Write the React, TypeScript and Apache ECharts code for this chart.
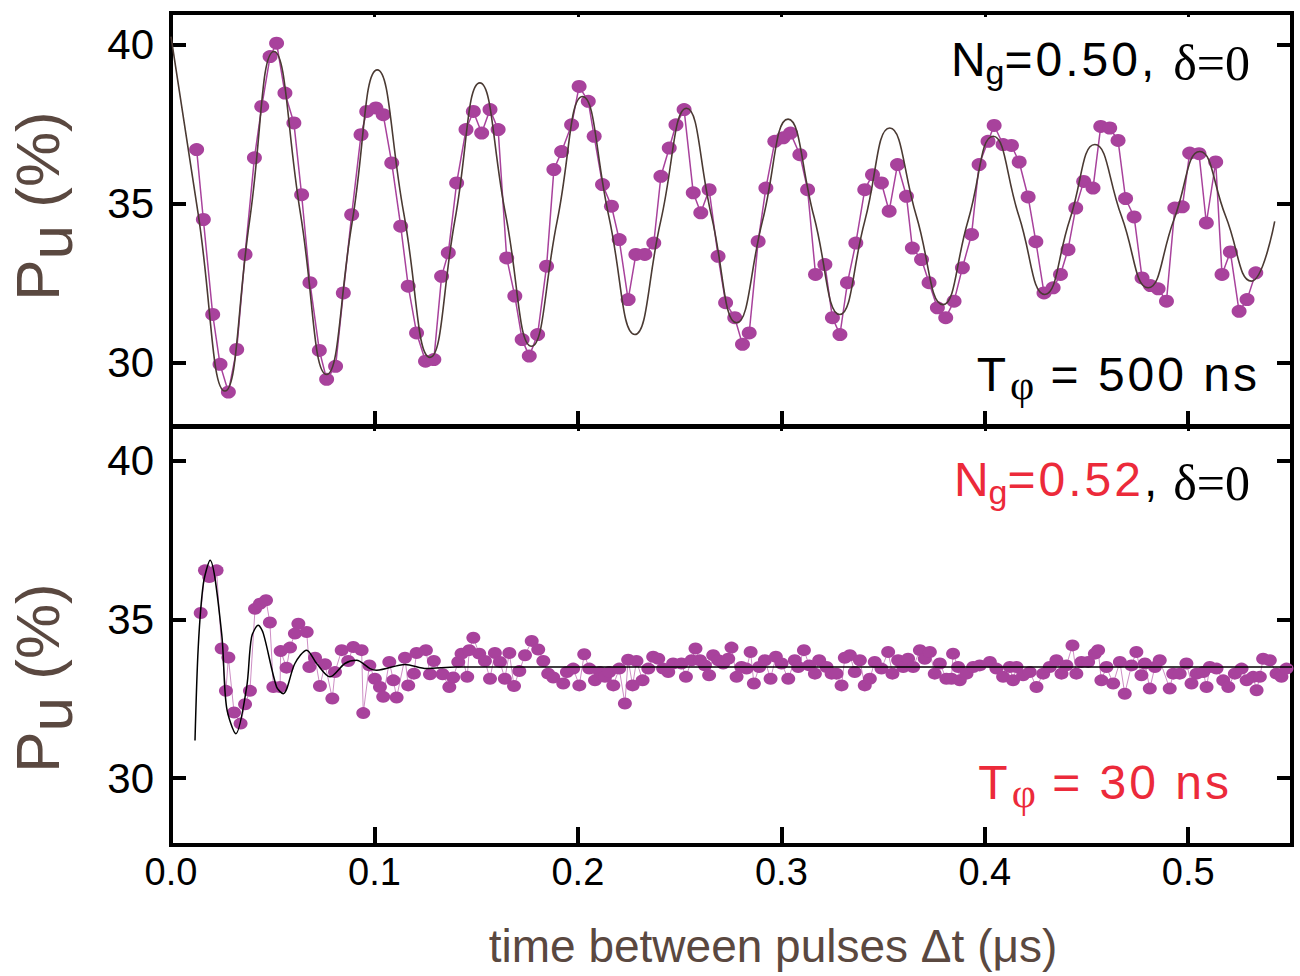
import React, { useEffect, useRef } from "react";
import * as echarts from "echarts";

// ---- axis ticks ----
const X_TICKS = [0, 0.1, 0.2, 0.3, 0.4, 0.5];
const Y_TICKS = [30, 35, 40];

// ---- top panel: measured points [t (µs), Pu (%)] ----
const topData: number[][] = [
  [0.0126, 36.7], [0.0159, 34.5], [0.0205, 31.51], [0.0241, 29.94], [0.0282, 29.07],
  [0.0323, 30.41], [0.0364, 33.4], [0.041, 36.44], [0.0446, 38.06], [0.0487, 39.63],
  [0.0519, 40.05], [0.056, 38.48], [0.0604, 37.54], [0.0642, 35.28], [0.0683, 32.51],
  [0.0729, 30.38], [0.0765, 29.47], [0.0809, 29.88], [0.0847, 32.19], [0.0888, 34.65],
  [0.0934, 37.17], [0.0962, 37.9], [0.1007, 38.01], [0.1043, 37.8], [0.1085, 36.28],
  [0.1129, 34.29], [0.1166, 32.4], [0.1207, 30.93], [0.1251, 30.04], [0.1292, 30.09],
  [0.133, 32.71], [0.1363, 33.45], [0.1404, 35.65], [0.145, 37.33], [0.1486, 37.9],
  [0.1527, 37.22], [0.1568, 37.96], [0.1608, 37.33], [0.165, 33.29], [0.169, 32.09],
  [0.1726, 30.72], [0.1761, 30.2], [0.1802, 30.88], [0.1846, 33.03], [0.1882, 36.07],
  [0.192, 36.64], [0.1969, 37.48], [0.2006, 38.69], [0.2051, 38.22], [0.208, 37.12],
  [0.2121, 35.6], [0.2165, 34.92], [0.2203, 33.87], [0.2247, 31.98], [0.2285, 33.4],
  [0.2329, 33.4], [0.2373, 33.76], [0.2408, 35.86], [0.2449, 36.75], [0.2482, 37.48],
  [0.2522, 37.96], [0.2567, 35.34], [0.2604, 34.71], [0.2645, 35.44], [0.2689, 33.34],
  [0.2726, 31.88], [0.2771, 31.41], [0.2809, 30.57], [0.2842, 30.93], [0.2886, 33.81],
  [0.2924, 35.49], [0.2968, 36.96], [0.3009, 37.07], [0.3045, 37.22], [0.3091, 36.54],
  [0.3129, 35.44], [0.3168, 32.77], [0.3214, 33.08], [0.3251, 31.41], [0.3288, 30.88],
  [0.3325, 32.51], [0.3366, 33.76], [0.341, 35.44], [0.3448, 35.91], [0.3492, 35.65],
  [0.353, 34.76], [0.3571, 36.23], [0.3615, 35.23], [0.3644, 33.6], [0.3689, 33.24],
  [0.3726, 32.51], [0.3767, 31.72], [0.3808, 31.41], [0.3849, 31.93], [0.389, 32.98],
  [0.3935, 34.03], [0.3972, 36.23], [0.4016, 36.96], [0.4046, 37.46], [0.409, 36.86],
  [0.4131, 36.83], [0.4169, 36.31], [0.4213, 35.21], [0.4251, 33.8], [0.4291, 32.19],
  [0.4336, 32.35], [0.4372, 32.77], [0.4409, 33.55], [0.4447, 34.86], [0.4486, 35.7],
  [0.4532, 35.49], [0.457, 37.43], [0.4614, 37.38], [0.4655, 36.99], [0.4692, 35.16],
  [0.4734, 34.58], [0.4773, 32.66], [0.4814, 32.42], [0.4852, 32.32], [0.4893, 31.93],
  [0.4934, 34.86], [0.4971, 34.9], [0.5007, 36.59], [0.5053, 36.57], [0.5089, 34.39],
  [0.5135, 36.31], [0.5166, 32.77], [0.5207, 33.48], [0.525, 31.61], [0.5289, 31.98],
  [0.5332, 32.82],
];

// ---- top panel: fit curve read at extrema and mid-crossings ----
const topFit: number[][] = [
  [0, 40.26], [0.0133, 34.7], [0.0265, 29.1], [0.0386, 34.45], [0.0506, 39.79],
  [0.0636, 34.7], [0.0765, 29.62], [0.089, 34.4], [0.1014, 39.21], [0.1144, 34.7],
  [0.1273, 30.16], [0.1396, 34.5], [0.1518, 38.8], [0.1645, 34.65], [0.1772, 30.51],
  [0.1898, 34.45], [0.2023, 38.37], [0.2152, 34.6], [0.228, 30.88], [0.2407, 34.45],
  [0.2534, 38.0], [0.2657, 34.6], [0.278, 31.25], [0.2907, 34.45], [0.3033, 37.66],
  [0.316, 34.6], [0.3287, 31.51], [0.341, 34.45], [0.3533, 37.38], [0.3664, 34.6],
  [0.3794, 31.82], [0.3918, 34.47], [0.4041, 37.12], [0.4168, 34.6], [0.4295, 32.14],
  [0.4418, 34.5], [0.4541, 36.86], [0.4672, 34.6], [0.4803, 32.35], [0.493, 34.5],
  [0.5057, 36.64], [0.5184, 34.6], [0.5311, 32.56], [0.5425, 34.44],
];

// ---- bottom panel: measured points ----
const bottomData: number[][] = [
  [0.0146, 35.2], [0.0167, 36.54], [0.0188, 36.33], [0.0224, 36.54], [0.0249, 34.08],
  [0.027, 32.75], [0.0282, 33.8], [0.031, 32.07], [0.0342, 31.72], [0.0364, 32.33],
  [0.0388, 32.75], [0.0413, 35.33], [0.0437, 35.49], [0.0467, 35.6], [0.0486, 34.9],
  [0.0503, 32.87], [0.0536, 32.87], [0.0539, 34.0], [0.0568, 33.48], [0.0585, 34.11],
  [0.0609, 34.55], [0.0626, 34.86], [0.0667, 34.6], [0.068, 33.5], [0.0708, 33.79],
  [0.0732, 32.9], [0.0757, 33.59], [0.0793, 32.51], [0.0806, 33.34], [0.0839, 34.03],
  [0.0871, 33.69], [0.0896, 34.13], [0.0937, 34.03], [0.0945, 32.05], [0.0975, 33.55],
  [0.1002, 33.13], [0.1027, 32.87], [0.1043, 32.56], [0.1073, 33.66], [0.1093, 33.08],
  [0.1109, 32.54], [0.115, 33.79], [0.1166, 32.92], [0.1194, 33.29], [0.1207, 33.94],
  [0.1253, 34.03], [0.1273, 33.27], [0.1292, 33.69], [0.1335, 33.27], [0.1368, 32.87],
  [0.1387, 33.17], [0.1412, 33.66], [0.1428, 33.92], [0.1456, 33.19], [0.1466, 34.03],
  [0.1486, 34.42], [0.1515, 33.92], [0.1543, 33.69], [0.1568, 33.13], [0.1592, 33.94],
  [0.1617, 33.66], [0.1641, 33.13], [0.1663, 33.94], [0.1686, 32.9], [0.1712, 33.37],
  [0.174, 33.87], [0.1773, 34.32], [0.1805, 34.05], [0.183, 33.69], [0.1854, 33.29],
  [0.1879, 33.17], [0.1928, 32.98], [0.1946, 33.34], [0.1977, 33.45], [0.2007, 32.92],
  [0.2031, 33.9], [0.2056, 33.45], [0.2084, 33.08], [0.2108, 33.34], [0.2133, 33.19],
  [0.2154, 33.34], [0.2174, 32.92], [0.2203, 33.45], [0.2231, 32.35], [0.2247, 33.73],
  [0.2269, 32.92], [0.2288, 33.69], [0.2318, 33.08], [0.2346, 33.45], [0.237, 33.82],
  [0.2395, 33.76], [0.2419, 33.45], [0.2444, 33.34], [0.2468, 33.61], [0.2509, 33.61],
  [0.2531, 33.19], [0.2559, 33.71], [0.2578, 34.08], [0.26, 33.71], [0.2624, 33.55],
  [0.2645, 33.24], [0.2665, 33.87], [0.269, 33.71], [0.2714, 33.61], [0.2739, 33.76],
  [0.2755, 34.11], [0.278, 33.19], [0.2804, 33.5], [0.2829, 33.45], [0.2849, 33.97],
  [0.2865, 32.98], [0.2891, 33.5], [0.2919, 33.71], [0.2947, 33.13], [0.2973, 33.82],
  [0.3001, 33.61], [0.3034, 33.13], [0.3066, 33.71], [0.3083, 33.5], [0.3111, 34.03],
  [0.3137, 33.55], [0.3165, 33.29], [0.3186, 33.71], [0.3222, 33.5], [0.3247, 33.29],
  [0.3271, 33.29], [0.3296, 32.92], [0.3312, 33.79], [0.3337, 33.87], [0.3361, 33.34],
  [0.3386, 33.71], [0.341, 32.92], [0.3435, 33.13], [0.3459, 33.66], [0.3492, 33.45],
  [0.3525, 33.97], [0.3546, 33.29], [0.3574, 33.71], [0.3599, 33.5], [0.3623, 33.76],
  [0.3648, 33.5], [0.3681, 34.03], [0.3705, 33.76], [0.373, 33.97], [0.3754, 33.29],
  [0.3779, 33.61], [0.3811, 33.13], [0.3836, 33.13], [0.3844, 33.92], [0.3869, 33.5],
  [0.3877, 33.08], [0.391, 33.29], [0.3943, 33.5], [0.3975, 33.55], [0.4025, 33.66],
  [0.4057, 33.45], [0.409, 33.19], [0.4123, 33.5], [0.4139, 33.08], [0.4156, 33.5],
  [0.4188, 33.24], [0.4221, 33.34], [0.4254, 32.87], [0.4287, 33.29], [0.4319, 33.5],
  [0.4352, 33.71], [0.4377, 33.29], [0.4401, 33.55], [0.4431, 34.18], [0.445, 33.29],
  [0.4475, 33.66], [0.4508, 33.66], [0.4541, 33.92], [0.4557, 34.03], [0.4573, 33.08],
  [0.4598, 33.5], [0.4631, 32.98], [0.4664, 33.66], [0.4688, 32.66], [0.4721, 33.55],
  [0.4745, 33.97], [0.477, 33.24], [0.4787, 33.61], [0.4811, 32.82], [0.4836, 33.5],
  [0.486, 33.71], [0.4909, 32.82], [0.4926, 33.29], [0.4958, 33.29], [0.4991, 33.61],
  [0.5016, 32.98], [0.5041, 33.29], [0.5074, 33.34], [0.509, 32.87], [0.5106, 33.5],
  [0.5139, 33.45], [0.5172, 33.08], [0.5197, 32.87], [0.5229, 33.29], [0.5262, 33.45],
  [0.5287, 33.08], [0.5319, 33.19], [0.5336, 32.77], [0.5352, 33.19], [0.5368, 33.76],
  [0.5401, 33.71], [0.5434, 33.29], [0.5458, 33.19], [0.5483, 33.45],
];

// ---- bottom panel: fit curve ----
const bottomFit: number[][] = [
  [0.0118, 31.19], [0.0134, 34.13], [0.0159, 36.12], [0.0192, 36.86], [0.0249, 34.55],
  [0.0273, 32.24], [0.0319, 31.4], [0.0372, 32.87], [0.0396, 34.44], [0.0429, 34.81],
  [0.0454, 34.55], [0.0519, 32.87], [0.0552, 32.66], [0.0609, 33.61], [0.0667, 34.03],
  [0.0716, 33.61], [0.0781, 33.19], [0.0855, 33.61], [0.0912, 33.71], [0.0978, 33.45],
  [0.1011, 33.4], [0.115, 33.58], [0.1256, 33.45], [0.14, 33.5], [0.551, 33.5],
];

const X_MAX = 0.551;
const TOP_Y: [number, number] = [28.0, 41.0];
const BOT_Y: [number, number] = [27.9, 41.05];

// spread characters as separate rich tokens (wider tracking)
const spread = (s: string, style: string) =>
  s
    .split("")
    .map((c) => `{${style}|${c}}`)
    .join("");

export default function App() {
  const ref = useRef<HTMLDivElement>(null);

  useEffect(() => {
    document.body.style.margin = "0";
    const chart = echarts.init(ref.current!, null, { renderer: "svg" });

    const PURPLE = "#a8429c";
    const BROWN = "#5a4840";
    const RED = "#ec2a3a";
    const FONT = "'Liberation Sans', Arial, Helvetica, sans-serif";
    const SERIF = "'Liberation Serif', 'Times New Roman', serif";

    const xAxisOf = (gridIndex: number, position: string, tickLen: number, tickW: number, labels: boolean) => ({
      type: "value",
      gridIndex,
      position,
      min: 0,
      max: X_MAX,
      splitLine: { show: false },
      axisLine: { show: false, onZero: false },
      axisTick: {
        show: true,
        inside: true,
        length: tickLen,
        customValues: X_TICKS,
        lineStyle: { color: "#000", width: tickW },
      },
      axisLabel: labels
        ? {
            show: true,
            customValues: X_TICKS,
            formatter: (v: number) => v.toFixed(1),
            fontSize: 38,
            fontFamily: FONT,
            color: "#000",
            margin: 8,
          }
        : { show: false },
    });

    const yAxisOf = (gridIndex: number, position: string, range: [number, number], labels: boolean) => ({
      type: "value",
      gridIndex,
      position,
      min: range[0],
      max: range[1],
      splitLine: { show: false },
      axisLine: { show: false, onZero: false },
      axisTick: {
        show: true,
        inside: true,
        length: 15,
        customValues: Y_TICKS,
        lineStyle: { color: "#000", width: 4 },
      },
      axisLabel: labels
        ? {
            show: true,
            customValues: Y_TICKS,
            fontSize: 42,
            fontFamily: FONT,
            color: "#000",
            margin: 17,
          }
        : { show: false },
    });

    const gridBase = {
      show: true,
      borderColor: "#000",
      borderWidth: 4,
      backgroundColor: "transparent",
      containLabel: false,
    };

    const titleRich = {
      p: { fontSize: 62, fontFamily: FONT, fill: BROWN, lineHeight: 66, verticalAlign: "middle" },
      u: { fontSize: 62, fontFamily: FONT, fill: BROWN, lineHeight: 66, padding: [26, 0, 0, 0], verticalAlign: "middle" },
    };

    const annRich = (main: string) => ({
      n: { fontSize: 48, fontFamily: FONT, fill: main, lineHeight: 52, verticalAlign: "middle" },
      s: { fontSize: 48, fontFamily: FONT, fill: main, lineHeight: 52, padding: [0, 3, 0, 0], verticalAlign: "middle" },
      k: { fontSize: 48, fontFamily: FONT, fill: "#000", lineHeight: 52, verticalAlign: "middle" },
      g: { fontSize: 34, fontFamily: FONT, fill: main, lineHeight: 36, padding: [26, 0, 0, 0], verticalAlign: "middle" },
      d: { fontSize: 50, fontFamily: SERIF, fill: "#000", lineHeight: 52, padding: [8, 0, 0, 16], verticalAlign: "middle" },
      f: { fontSize: 42, fontFamily: SERIF, fill: main, lineHeight: 44, padding: [22, 0, 0, 4], verticalAlign: "middle" },
    });

    const option: any = {
      animation: false,
      textStyle: { fontFamily: FONT },
      grid: [
        { ...gridBase, left: 171, top: 13, width: 1121, height: 413 },
        { ...gridBase, left: 171, top: 427, width: 1121, height: 418 },
      ],
      xAxis: [
        xAxisOf(0, "bottom", 15, 4, false),
        xAxisOf(0, "top", 4, 3, false),
        xAxisOf(1, "bottom", 18, 4, true),
        xAxisOf(1, "top", 4, 3, false),
      ],
      yAxis: [
        yAxisOf(0, "left", TOP_Y, true),
        yAxisOf(0, "right", TOP_Y, false),
        yAxisOf(1, "left", BOT_Y, true),
        yAxisOf(1, "right", BOT_Y, false),
      ],
      series: [
        {
          type: "line",
          xAxisIndex: 0,
          yAxisIndex: 0,
          data: topData,
          symbol: "circle",
          symbolSize: [15, 13],
          itemStyle: { color: PURPLE },
          lineStyle: { color: PURPLE, width: 1.5 },
          emphasis: { disabled: true },
          z: 2,
        },
        {
          type: "line",
          xAxisIndex: 0,
          yAxisIndex: 0,
          data: topFit,
          smooth: 0.5,
          symbol: "none",
          lineStyle: { color: "#4a3a33", width: 1.6 },
          emphasis: { disabled: true },
          z: 3,
        },
        {
          type: "line",
          xAxisIndex: 2,
          yAxisIndex: 2,
          data: bottomData,
          symbol: "circle",
          symbolSize: [14, 12],
          itemStyle: { color: PURPLE },
          lineStyle: { color: "#c070b5", width: 0.8 },
          emphasis: { disabled: true },
          z: 2,
        },
        {
          type: "line",
          xAxisIndex: 2,
          yAxisIndex: 2,
          data: bottomFit,
          smooth: 0.3,
          symbol: "none",
          lineStyle: { color: "#000", width: 1.5 },
          emphasis: { disabled: true },
          z: 3,
        },
      ],
      graphic: [
        {
          type: "text",
          x: 37,
          y: 206,
          rotation: Math.PI / 2,
          style: { text: "{p|P}{u|u}{p| (%)}", rich: titleRich, align: "center", verticalAlign: "middle" },
        },
        {
          type: "text",
          x: 37,
          y: 678,
          rotation: Math.PI / 2,
          style: { text: "{p|P}{u|u}{p| (%)}", rich: titleRich, align: "center", verticalAlign: "middle" },
        },
        {
          type: "text",
          x: 773,
          y: 946,
          style: {
            text: "time between pulses \u0394t (\u03bcs)",
            fontSize: 46,
            fontFamily: FONT,
            fill: BROWN,
            align: "center",
            verticalAlign: "middle",
          },
        },
        {
          type: "text",
          x: 1250,
          y: 59,
          style: {
            text: "{n|N}{g|g}" + spread("=0.50,", "s") + "{d|\u03b4=0}",
            align: "right",
            verticalAlign: "middle",
            rich: annRich("#000"),
          },
        },
        {
          type: "text",
          x: 1260,
          y: 374,
          style: {
            text: "{n|T}{f|\u03c6}" + spread(" = 500 ns", "s"),
            align: "right",
            verticalAlign: "middle",
            rich: annRich("#000"),
          },
        },
        {
          type: "text",
          x: 1250,
          y: 479,
          style: {
            text: "{n|N}{g|g}" + spread("=0.52", "s") + "{k|,}{d|\u03b4=0}",
            align: "right",
            verticalAlign: "middle",
            rich: annRich(RED),
          },
        },
        {
          type: "text",
          x: 1232,
          y: 782,
          style: {
            text: "{n|T}{f|\u03c6}" + spread(" = 30 ns", "s"),
            align: "right",
            verticalAlign: "middle",
            rich: annRich(RED),
          },
        },
      ],
    };

    chart.setOption(option);
    return () => chart.dispose();
  }, []);

  return <div ref={ref} style={{ width: 1300, height: 976 }} />;
}
